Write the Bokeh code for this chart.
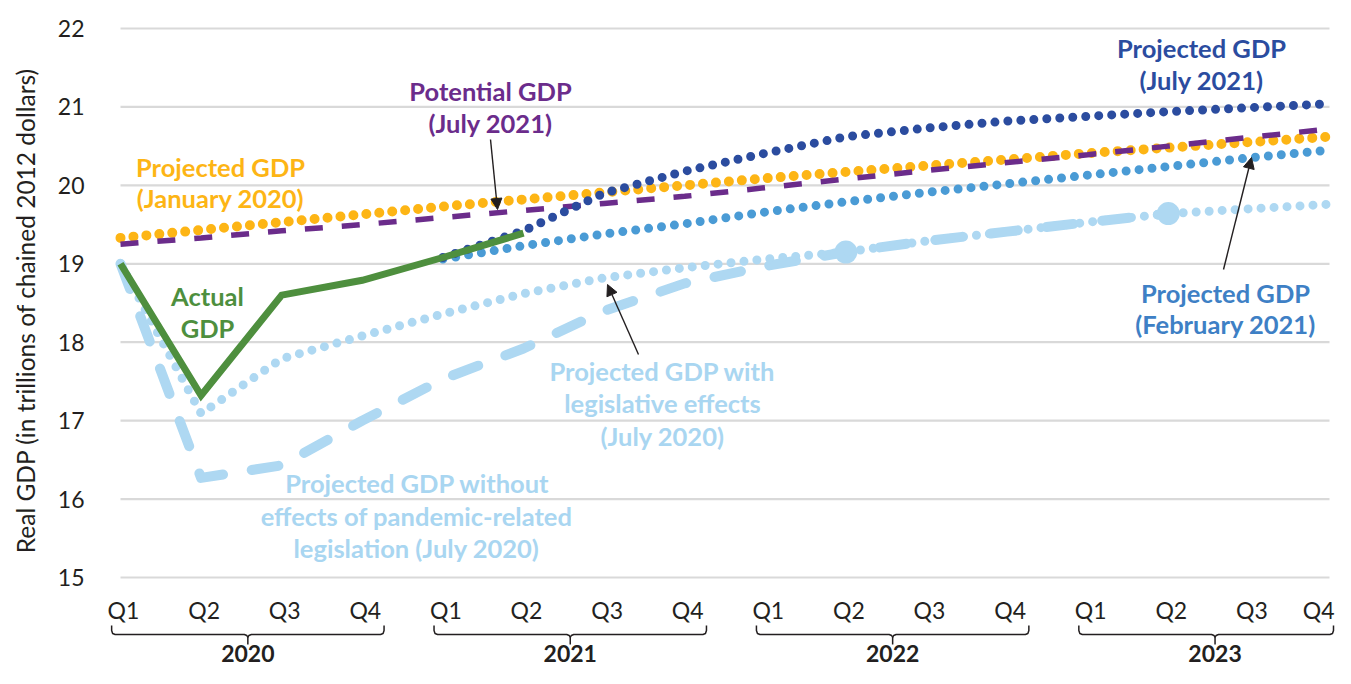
import numpy as np
from bokeh.plotting import figure
from bokeh.models import Range1d, Arrow, NormalHead
from bokeh.core.properties import value
from bokeh.embed import file_html
from bokeh.resources import INLINE

nan = float("nan")

# ---------------- data ----------------
quarter_labels = ["Q1", "Q2", "Q3", "Q4"] * 4
years = ["2020", "2021", "2022", "2023"]
y_ticks = [15, 16, 17, 18, 19, 20, 21, 22]
quarters = list(range(16))

actual_gdp = [19.00, 17.32, 18.60, 18.79, 19.08, 19.39]
proj_jan2020 = [19.33, 19.43, 19.53, 19.63, 19.73, 19.82, 19.91, 20.00,
                20.09, 20.17, 20.25, 20.33, 20.41, 20.48, 20.55, 20.62]
potential_jul2021 = [19.25, 19.33, 19.42, 19.50, 19.59, 19.68, 19.77, 19.86,
                     19.97, 20.08, 20.19, 20.29, 20.39, 20.50, 20.61, 20.72]
proj_jul2021 = [nan, nan, nan, nan, 19.08, 19.42, 19.90, 20.18,
                20.41, 20.62, 20.73, 20.82, 20.88, 20.94, 20.99, 21.04]
proj_feb2021 = [nan, nan, nan, nan, 19.06, 19.23, 19.38, 19.51,
                19.66, 19.79, 19.91, 20.02, 20.13, 20.24, 20.35, 20.45]
proj_with_leg = [19.00, 17.09, 17.79, 18.08, 18.36, 18.62, 18.82, 18.95,
                 19.06, 19.15, 19.29, 19.41, 19.53, 19.64, 19.70, 19.76]
proj_without_leg = [19.00, 16.27, 16.43, 17.00, 17.53, 17.92, 18.40, 18.75,
                    18.97, 19.15, 19.29, 19.41, 19.53, 19.64, nan, nan]
marker_quarters = [9, 13]

# ---------------- layout ----------------
FIG_W, FIG_H = 1335, 668
X0, KX = 120.0, 80.6      # px of quarter 0, px per quarter
Y15, KY = 577.0, 78.43    # px of value 15, px per unit


def dx(px):
    return (px - X0) / KX


def dy(py):
    return 15 + (Y15 - py) / KY


p = figure(width=FIG_W, height=FIG_H, output_backend="svg", toolbar_location=None,
           x_axis_type=None, y_axis_type=None,
           x_range=Range1d(dx(0), dx(FIG_W)),
           y_range=Range1d(dy(FIG_H), dy(0)),
           min_border=0, min_border_left=0, min_border_right=0,
           min_border_top=0, min_border_bottom=0)
p.outline_line_color = None
p.xgrid.visible = False
p.ygrid.visible = False
p.background_fill_color = "white"
p.border_fill_color = "white"

FONT = value("Lato")
DARK = "#231F20"

# gridlines
p.segment(x0=[quarters[0]] * len(y_ticks), x1=[quarters[-1]] * len(y_ticks),
          y0=y_ticks, y1=y_ticks, line_color="#D9D9D9", line_width=2.2)

# y tick labels
p.text(x=[dx(84)] * len(y_ticks), y=y_ticks, text=[str(t) for t in y_ticks],
       text_font=FONT, text_font_size="23px", text_color=DARK,
       text_align="right", text_baseline="middle")

# y axis label
p.text(x=[dx(25)], y=[dy(310)], text=["Real GDP (in trillions of chained 2012 dollars)"],
       angle=np.pi / 2, text_font=FONT, text_font_size="24.5px", text_color=DARK,
       text_align="center", text_baseline="middle")

# quarter labels
p.text(x=[q + 3 / KX for q in quarters[:-1]], y=[dy(609)] * 15, text=quarter_labels[:-1],
       text_font=FONT, text_font_size="23px", text_color=DARK,
       text_align="center", text_baseline="middle")
p.text(x=[dx(FIG_W - 1)], y=[dy(609)], text=quarter_labels[-1:],
       text_font=FONT, text_font_size="23px", text_color=DARK,
       text_align="right", text_baseline="middle")

# braces and year labels
brace_xs, brace_ys, year_x = [], [], []
u = 1 / KX
for k, yr in enumerate(years):
    L = quarters[4 * k] - 0.11
    R = min(quarters[4 * k + 3] + 0.27, dx(FIG_W - 2))
    C = (quarters[4 * k] - 0.11 + quarters[4 * k + 3] + 0.27) / 2
    year_x.append(C)
    brace_xs.append([L, L, L + 1 * u, L + 3.5 * u, C - 3.5 * u, C - 1 * u, C, C])
    brace_ys.append([dy(625), dy(630), dy(633), dy(634), dy(634), dy(635), dy(637), dy(644)])
    brace_xs.append([R, R, R - 1 * u, R - 3.5 * u, C + 3.5 * u, C + 1 * u, C])
    brace_ys.append([dy(625), dy(630), dy(633), dy(634), dy(634), dy(635), dy(637)])
p.multi_line(xs=brace_xs, ys=brace_ys, line_color=DARK, line_width=1.5)
p.text(x=year_x, y=[dy(653)] * 4, text=years, text_font=FONT, text_font_size="23px",
       text_font_style="bold", text_color=DARK, text_align="center", text_baseline="middle")

# colours
ORANGE = "#FDB515"
PURPLE = "#6B2C8B"
DBLUE = "#2B4C9F"
MBLUE = "#4A9BD5"
LBLUE = "#AED8F2"
GREEN = "#4E8F3E"

# series
p.line(quarters, proj_without_leg, line_color=LBLUE, line_width=10,
       line_dash="27 29", line_cap="round", line_join="round")
p.scatter([quarters[i] for i in marker_quarters], [proj_without_leg[i] for i in marker_quarters],
          size=23, fill_color=LBLUE, line_color=None)
p.line(quarters, proj_with_leg, line_color=LBLUE, line_width=9,
       line_dash="0 13", line_cap="round", line_join="round")
p.line(quarters, proj_feb2021, line_color=MBLUE, line_width=9,
       line_dash="0 13", line_cap="round", line_join="round")
p.line(quarters, proj_jan2020, line_color=ORANGE, line_width=10,
       line_dash="0 13", line_cap="round", line_join="round")
p.line(quarters, potential_jul2021, line_color=PURPLE, line_width=5.5,
       line_dash="18 19", line_cap="butt")
p.line(quarters, proj_jul2021, line_color=DBLUE, line_width=9,
       line_dash="0 13", line_cap="round", line_join="round")
p.line(quarters[:len(actual_gdp)], actual_gdp, line_color=GREEN, line_width=7,
       line_join="miter")

# annotation labels
labels = [
    (220, 166, "Projected GDP", ORANGE), (220, 197, "(January 2020)", ORANGE),
    (490, 90, "Potential GDP", PURPLE), (490, 122, "(July 2021)", PURPLE),
    (1201, 47, "Projected GDP", DBLUE), (1201, 79, "(July 2021)", DBLUE),
    (1225, 292, "Projected GDP", "#3E80C5"), (1225, 323, "(February 2021)", "#3E80C5"),
    (207, 295, "Actual", GREEN), (207, 327, "GDP", GREEN),
    (662, 370, "Projected GDP with", "#A9D6F1"), (662, 402, "legislative effects", "#A9D6F1"),
    (662, 435, "(July 2020)", "#A9D6F1"),
    (417, 482, "Projected GDP without", "#A9D6F1"),
    (416, 515, "effects of pandemic-related", "#A9D6F1"),
    (416, 547, "legislation (July 2020)", "#A9D6F1"),
]
p.text(x=[dx(a[0]) for a in labels], y=[dy(a[1]) for a in labels], text=[a[2] for a in labels],
       text_color=[a[3] for a in labels], text_font=FONT, text_font_size="25.5px",
       text_font_style="bold", text_align="center", text_baseline="middle")


# arrows pointing to series
def add_arrow(tail_px, head_px):
    p.add_layout(Arrow(end=NormalHead(size=11, fill_color=DARK, line_color=DARK, line_width=1),
                       x_start=dx(tail_px[0]), y_start=dy(tail_px[1]),
                       x_end=dx(head_px[0]), y_end=dy(head_px[1]),
                       line_color=DARK, line_width=1.4))


add_arrow((490, 139), (497, 209))
add_arrow((638, 354), (607, 284))
add_arrow((1223, 269), (1251, 157))

open("out.html", "w").write(file_html(p, INLINE))
